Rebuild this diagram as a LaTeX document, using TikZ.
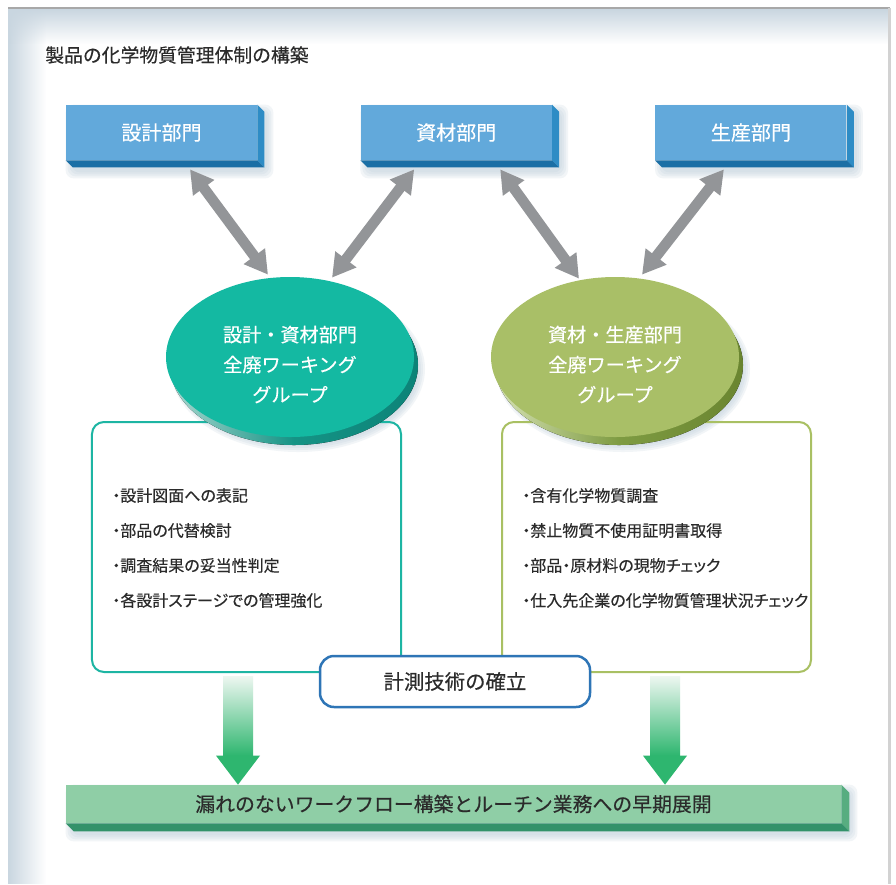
\documentclass[tikz,border=0pt]{standalone}
\usepackage{fontspec}
\setmainfont{Noto Sans CJK JP}[FakeBold=0.4]
\newfontfamily\listfont[RawFeature=+palt,FakeBold=0.4]{Noto Sans CJK JP}
\usepackage{tikz}
\usetikzlibrary{arrows.meta,positioning,calc,shapes.geometric,fadings}
\usepackage{xcolor}
\definecolor{Ink}{HTML}{2B2B2B}
\definecolor{Frame}{HTML}{C9D6E0}
\definecolor{FrameEdge}{HTML}{A8A8A8}
\definecolor{FrameSide}{HTML}{D2D2D2}
\definecolor{ShadowBlue}{HTML}{B9CBD8}
\definecolor{BoxBlue}{HTML}{62A9DB}
\definecolor{BoxSide}{HTML}{2E8CC5}
\definecolor{BoxBottom}{HTML}{1B6FA5}
\definecolor{ArrowGray}{HTML}{939598}
\definecolor{Teal}{HTML}{14B9A2}
\definecolor{TealLine}{HTML}{1DB5A3}
\definecolor{TealPale}{HTML}{A9D8D0}
\definecolor{TealMid}{HTML}{159385}
\definecolor{TealDeep}{HTML}{0C8378}
\definecolor{Olive}{HTML}{A9BF67}
\definecolor{OliveLine}{HTML}{A9C063}
\definecolor{OlivePale}{HTML}{D6E2B4}
\definecolor{OliveMid}{HTML}{7E9B42}
\definecolor{OliveDeep}{HTML}{6A8530}
\definecolor{MidBlue}{HTML}{2E75B6}
\definecolor{BarFace}{HTML}{8FCEA6}
\definecolor{BarSide}{HTML}{57AD80}
\definecolor{BarBottom}{HTML}{33926A}
\definecolor{GreenArrow}{HTML}{2EB66F}
\definecolor{GreenPale}{HTML}{EEF7F1}
\pgfdeclarelayer{bg}
\pgfdeclarelayer{shade}
\pgfsetlayers{bg,shade,main}
% extruded right and bottom faces of a slab node
\newcommand{\slab}[4]{%
  \fill[#3] (#1.north east) -- ([shift={(#2,#2)}]#1.north east)
    -- ([shift={(#2,#2)}]#1.south east) -- (#1.south east) -- cycle;
  \fill[#4] (#1.south west) -- (#1.south east)
    -- ([shift={(#2,#2)}]#1.south east) -- ([shift={(#2,#2)}]#1.south west) -- cycle;
}
\newcommand{\boxshadow}[1]{%
  \begin{pgfonlayer}{shade}
    \foreach \r in {0,2,4,6}
      \fill[ShadowBlue, opacity=0.18, rounded corners=1.6mm]
        ([shift={(6-\r,6-\r)}]#1.north west) rectangle ([shift={(10+\r,12+\r)}]#1.south east);
  \end{pgfonlayer}}
\newcommand{\ovalshadow}[1]{%
  \begin{pgfonlayer}{shade}
    \foreach \r in {0,2,4,6}
      \fill[ShadowBlue, opacity=0.18] ([shift={(8,12)}]#1)
        ellipse [x radius={24.2mm+\r*0.2mm}, y radius={15.4mm+\r*0.2mm}];
  \end{pgfonlayer}}
\tikzset{
  dept/.style={fill=BoxBlue, text=white, minimum width=38.2mm, minimum height=11mm,
    inner sep=0pt, font=\fontsize{11.4pt}{14pt}\selectfont},
  wg/.style={ellipse, fill=#1, minimum width=49.6mm, minimum height=32mm, inner sep=0pt},
  wgtext/.style={text=white, align=center, inner sep=0pt,
    font=\fontsize{10.9pt}{17.1pt}\selectfont},
  taskbox/.style={draw=#1, line width=0.4mm, rounded corners=2.4mm,
    minimum width=61.8mm, minimum height=50mm},
  tasklist/.style={anchor=west, align=left, text=Ink, inner sep=0pt,
    font=\listfont\fontsize{9.1pt}{19.9pt}\selectfont},
  dblarr/.style={{Triangle[length=4.6mm,width=5mm]}-{Triangle[length=4.6mm,width=5mm]},
    line width=2.1mm, draw=ArrowGray},
}

\begin{document}
\begin{tikzpicture}[x=0.2mm, y=-0.2mm]
  \useasboundingbox (0,0) rectangle (896,884);
  \begin{pgfonlayer}{bg}
    \fill[white] (0,0) rectangle (896,884);
    \fill[Frame, path fading=east] (8,9) rectangle (46,884);
    \fill[Frame, path fading=south] (8,9) rectangle (889,44);
    \draw[FrameEdge, line width=0.4mm] (8,8) -- (890,8);
    \draw[FrameSide, line width=0.6mm] (889,8) -- (889,884);
  \end{pgfonlayer}

  \node[anchor=west, text=Ink, inner sep=0pt, font=\fontsize{10.7pt}{13pt}\selectfont]
    (title) at (45,55) {製品の化学物質管理体制の構築};

  % departments
  \node[dept] (sekkei) at (161.5,132.5) {設計部門};
  \node[dept, right=20.6mm of sekkei] (shizai) {資材部門};
  \node[dept, right=20.6mm of shizai] (seisan) {生産部門};
  \foreach \d in {sekkei,shizai,seisan} {
    \slab{\d}{7}{BoxSide}{BoxBottom}
    \boxshadow{\d}
  }

  % task boxes
  \node[taskbox=TealLine] (lbox) at (246.5,547) {};
  \node[taskbox=OliveLine] (rbox) at (656.5,547) {};
  \node[tasklist] (llist) at (112,548)
    {・設計図面への表記\\・部品の代替検討\\・調査結果の妥当性判定\\・各設計ステージでの管理強化};
  \node[tasklist] (rlist) at (522,548)
    {・含有化学物質調査\\・禁止物質不使用証明書取得\\・部品・原材料の現物チェック\\・仕入先企業の化学物質管理状況チェック};

  % working groups
  \coordinate (lwgc) at (290,357);
  \coordinate (rwgc) at (615,357);
  \ovalshadow{lwgc}
  \ovalshadow{rwgc}
  \fill[left color=TealPale, right color=TealDeep, middle color=TealMid]
    ([shift={(4,8)}]lwgc) ellipse [x radius=24.8mm, y radius=16mm];
  \fill[left color=OlivePale, right color=OliveDeep, middle color=OliveMid]
    ([shift={(4,8)}]rwgc) ellipse [x radius=24.8mm, y radius=16mm];
  \node[wg=Teal] (lwg) at (lwgc) {};
  \node[wg=Olive] (rwg) at (rwgc) {};
  \node[wgtext] (lwgt) at ([yshift=-1.5mm]lwg.center) {設計・資材部門\\全廃ワーキング\\グループ};
  \node[wgtext] (rwgt) at ([yshift=-1.5mm]rwg.center) {資材・生産部門\\全廃ワーキング\\グループ};

  \draw[dblarr] ([xshift=5.7mm, yshift=-1.8mm]sekkei.south) -- ([xshift=-4.4mm, yshift=0.4mm]lwg.north);
  \draw[dblarr] ([xshift=-8.4mm, yshift=-1.8mm]shizai.south) -- ([xshift=8.4mm, yshift=-0.2mm]lwg.north);
  \draw[dblarr] ([xshift=8.8mm, yshift=-1.8mm]shizai.south) -- ([xshift=-7.2mm, yshift=-0.4mm]rwg.north);
  \draw[dblarr] ([xshift=-5.4mm, yshift=-1.8mm]seisan.south) -- ([xshift=5.4mm, yshift=0.4mm]rwg.north);

  \node[draw=MidBlue, line width=0.5mm, fill=white, rounded corners=2.8mm,
    minimum width=54mm, minimum height=10.2mm, text=Ink,
    font=\fontsize{11.6pt}{14pt}\selectfont] (keisoku) at (455,681.5) {計測技術の確立};

  % goal bar
  \node[fill=BarFace, minimum width=155mm, minimum height=7.6mm, inner sep=0pt, text=Ink,
    font=\fontsize{11.3pt}{14pt}\selectfont] (goal) at (453.5,804)
    {漏れのないワークフロー構築とルーチン業務への早期展開};
  \slab{goal}{8}{BarSide}{BarBottom}
  \boxshadow{goal}

  \coordinate (lgo) at ([xshift=-1.7mm, yshift=-0.6mm]lbox.south);
  \coordinate (rgo) at ([xshift=1.7mm, yshift=-0.6mm]rbox.south);
  \foreach \g in {lgo,rgo} {
    \shade[top color=GreenPale, bottom color=GreenArrow]
      ([xshift=-3mm]\g) rectangle ([xshift=3mm, yshift=5.8mm]\g |- goal.north);
    \fill[GreenArrow] (\g |- goal.north) -- ([xshift=-4.4mm, yshift=5.8mm]\g |- goal.north)
      -- ([xshift=4.4mm, yshift=5.8mm]\g |- goal.north) -- cycle;
  }
\end{tikzpicture}
\end{document}
